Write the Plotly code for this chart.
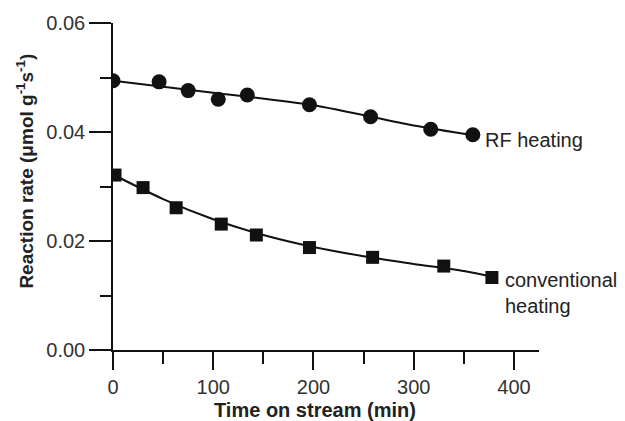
import plotly.graph_objects as go

# Measured reaction rates (µmol g^-1 s^-1) vs. time on stream (min)
rf_time = [0, 46, 75, 105, 134, 196, 257, 317, 359]
rf_rate = [0.0494, 0.0492, 0.0476, 0.0460, 0.0468, 0.0450, 0.0428, 0.0405, 0.0395]

conv_time = [2, 30, 63, 108, 143, 196, 259, 330, 378]
conv_rate = [0.0321, 0.0298, 0.0261, 0.0231, 0.0211, 0.0188, 0.0170, 0.0154, 0.0133]

# Fitted trend lines
rf_fit_time = [0, 100, 200, 300, 360]
rf_fit_rate = [0.0494, 0.0472, 0.0449, 0.0412, 0.0394]

conv_fit_time = [0, 50, 100, 150, 200, 250, 300, 350, 380]
conv_fit_rate = [0.0322, 0.0277, 0.0240, 0.0211, 0.0189, 0.0172, 0.0158, 0.0145, 0.0134]

x_ticks = [0, 100, 200, 300, 400]
y_ticks = [0.00, 0.02, 0.04, 0.06]

FONT = "Liberation Sans, Arial, sans-serif"
INK = "#111111"

fig = go.Figure()

fig.add_trace(go.Scatter(x=rf_fit_time, y=rf_fit_rate, mode="lines",
                         line=dict(color=INK, width=2, shape="spline", smoothing=0.8),
                         showlegend=False, hoverinfo="skip"))
fig.add_trace(go.Scatter(x=conv_fit_time, y=conv_fit_rate, mode="lines",
                         line=dict(color=INK, width=2, shape="spline", smoothing=0.8),
                         showlegend=False, hoverinfo="skip"))
fig.add_trace(go.Scatter(x=rf_time, y=rf_rate, mode="markers",
                         marker=dict(symbol="circle", size=15, color=INK),
                         name="RF heating", showlegend=False))
fig.add_trace(go.Scatter(x=conv_time, y=conv_rate, mode="markers",
                         marker=dict(symbol="square", size=13, color=INK),
                         name="conventional heating", showlegend=False))

axis_common = dict(
    showline=True, linecolor=INK, linewidth=1.5,
    ticks="outside", tickcolor=INK, tickwidth=1.5,
    showgrid=False, zeroline=False,
    tickfont=dict(family=FONT, size=20, color="#333333"),
)

fig.update_xaxes(
    range=[0, 425], tickvals=x_ticks, ticklen=18,
    minor=dict(ticks="outside", dtick=50, tick0=0, ticklen=12,
               tickcolor=INK, tickwidth=1.5, showgrid=False),
    **axis_common,
)
fig.update_yaxes(
    range=[0, 0.06], tickvals=y_ticks, tickformat=".2f", ticklen=22,
    minor=dict(ticks="outside", dtick=0.01, tick0=0, ticklen=11,
               tickcolor=INK, tickwidth=1.5, showgrid=False),
    **axis_common,
)

fig.add_annotation(text="RF heating", x=369, y=0.0385, xref="x", yref="y",
                   xanchor="left", yanchor="middle", showarrow=False,
                   font=dict(family=FONT, size=20, color="#222222"))
fig.add_annotation(text="conventional<br>heating", x=389, y=0.0104,
                   xref="x", yref="y", xanchor="left", yanchor="middle",
                   align="left", showarrow=False,
                   font=dict(family=FONT, size=20, color="#222222"))

fig.add_annotation(text="<b>Time on stream (min)</b>", x=0.474, y=-0.183,
                   xref="paper", yref="paper", xanchor="center",
                   yanchor="middle", showarrow=False,
                   font=dict(family=FONT, size=20, color="#222222"))
fig.add_annotation(text="<b>Reaction rate (μmol g<sup>-1</sup>s<sup>-1</sup>)</b>",
                   x=-0.207, y=0.548, xref="paper", yref="paper",
                   xanchor="center", yanchor="middle", textangle=-90,
                   showarrow=False,
                   font=dict(family=FONT, size=19, color="#222222"))

fig.update_layout(
    width=625, height=421,
    margin=dict(l=113, r=86, t=23, b=71),
    paper_bgcolor="white", plot_bgcolor="white",
)

fig.write_html("out.html")
